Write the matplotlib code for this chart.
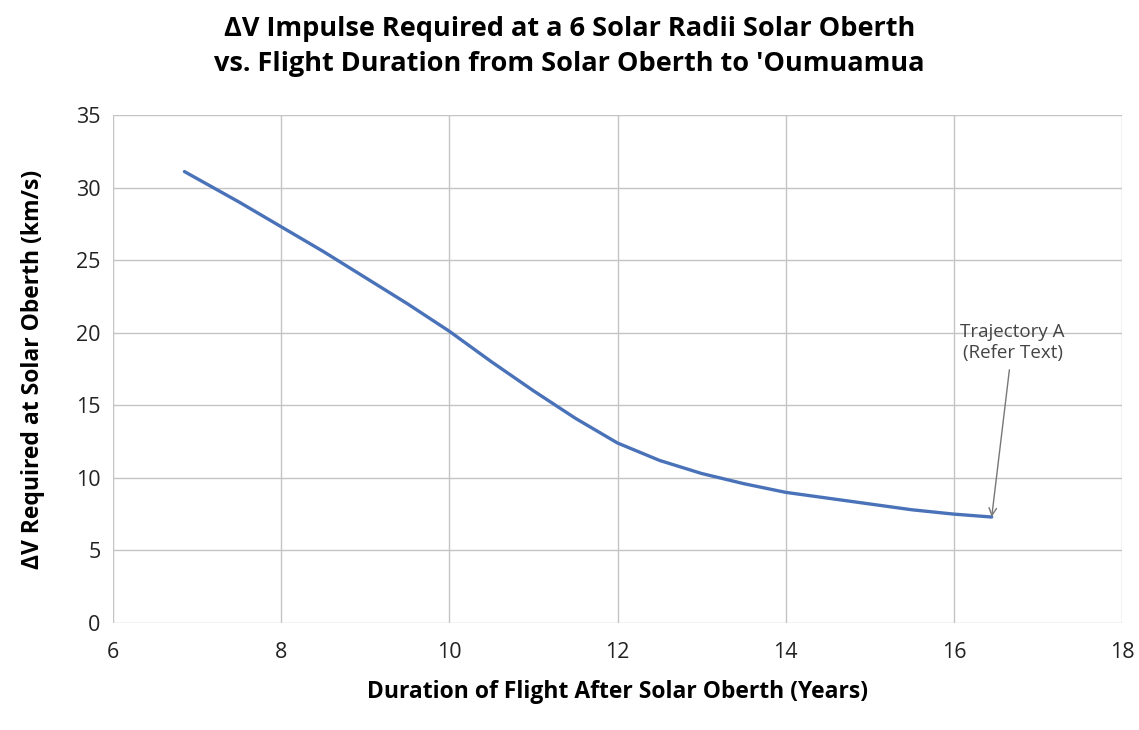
import numpy as np
import matplotlib.pyplot as plt

# Flight duration (years) vs required delta-V (km/s)
years = [6.85, 7.5, 8.0, 8.5, 9.0, 9.5, 10.0, 10.5, 11.0, 11.5, 12.0,
         12.5, 13.0, 13.5, 14.0, 14.5, 15.0, 15.5, 16.0, 16.45]
delta_v = [31.1, 29.0, 27.3, 25.6, 23.8, 22.0, 20.1, 18.0, 16.0, 14.1, 12.4,
           11.2, 10.3, 9.6, 9.0, 8.6, 8.2, 7.8, 7.5, 7.3]

x_ticks = [6, 8, 10, 12, 14, 16, 18]
y_ticks = [0, 5, 10, 15, 20, 25, 30, 35]

plt.rcParams['font.family'] = ['Open Sans', 'DejaVu Sans']

fig = plt.figure(figsize=(11.39, 7.30), dpi=100)
ax = fig.add_axes([0.0992, 0.1466, 0.8859, 0.6959])

ax.plot(years, delta_v, color='#4a72b8', lw=2.4, solid_capstyle='round')

ax.set_xlim(6, 18)
ax.set_ylim(0, 35)
ax.set_xticks(x_ticks)
ax.set_yticks(y_ticks)
ax.tick_params(axis='x', length=0, labelsize=15.5, pad=14, colors='#222222')
ax.tick_params(axis='y', length=0, labelsize=15.5, pad=9, colors='#222222')
ax.grid(True, color='#c4c4c4', lw=1)
for s in ax.spines.values():
    s.set_visible(False)

ax.annotate('Trajectory A\n(Refer Text)', xy=(16.45, 7.3), xytext=(16.7, 19.35),
            ha='center', va='center', fontsize=13.5, color='#444444',
            linespacing=1.2,
            arrowprops=dict(arrowstyle='->', color='#777777', lw=1,
                            shrinkA=4, shrinkB=0))

ax.set_xlabel('Duration of Flight After Solar Oberth (Years)', fontsize=16.5,
              fontweight='bold', labelpad=12)
ax.set_ylabel('ΔV Required at Solar Oberth (km/s)', fontsize=16.5,
              fontweight='bold', labelpad=22)
fig.suptitle("ΔV Impulse Required at a 6 Solar Radii Solar Oberth\n"
             "vs. Flight Duration from Solar Oberth to 'Oumuamua",
             fontsize=19.5, fontweight='bold', y=0.978, linespacing=1.45)

fig.savefig('out.png', dpi=100)
